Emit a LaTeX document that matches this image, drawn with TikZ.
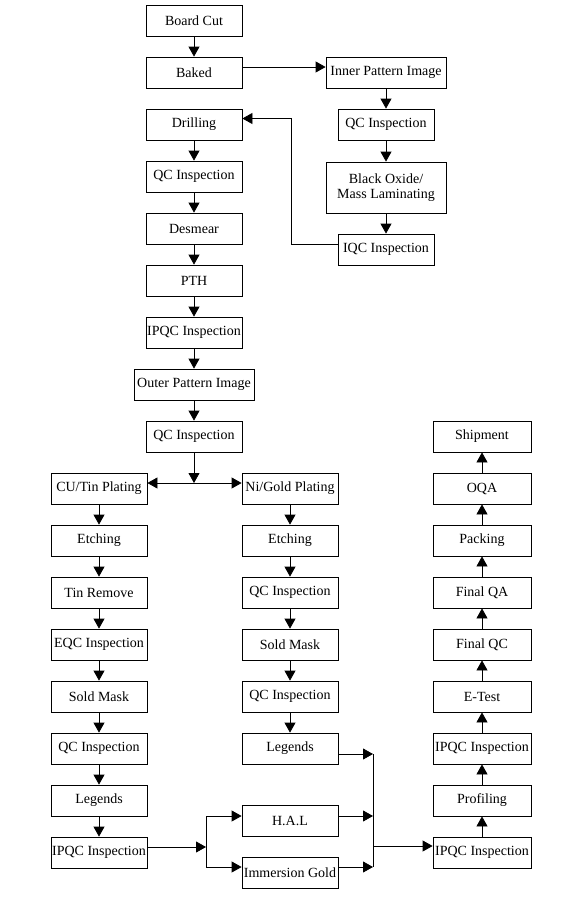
\documentclass[tikz,border=0pt]{standalone}
\usepackage{fontspec}
\setmainfont{Liberation Serif}
\usetikzlibrary{arrows.meta,calc}
\begin{document}
\begin{tikzpicture}[x=1pt,y=-1pt,
 box/.style={draw,line width=0.8pt,minimum width=96pt,minimum height=31pt,inner sep=0pt,font=\fontsize{14}{15.5}\selectfont,align=center},
 wide/.style={box,minimum width=120pt},
 rbox/.style={box,minimum width=98pt},
 arr/.style={-{Triangle[length=10pt,width=11pt]},line width=0.8pt},
 ln/.style={line width=0.8pt}]
\fill[white] (0,0) rectangle (580,900);
\useasboundingbox (0,0) rectangle (580,900);
% main column
\node[box]  (bc)     at (194,20.5)  {Board Cut};
\node[box]  (baked)  at (194,72.5)  {Baked};
\node[box]  (drill)  at (194,124.5) {Drilling};
\node[box]  (qca)    at (194,176.5) {QC Inspection};
\node[box]  (desm)   at (194,228.5) {Desmear};
\node[box]  (pth)    at (194,280.5) {PTH};
\node[box]  (ipqca)  at (194,332.5) {IPQC Inspection};
\node[wide] (outer)  at (194,384.5) {Outer Pattern Image};
\node[box]  (qcb)    at (194,436.5) {QC Inspection};
% right top column
\node[wide] (inner)  at (386,72.5)  {Inner Pattern Image};
\node[box]  (qcc)    at (386,124.5) {QC Inspection};
\node[wide,minimum height=51pt] (oxide) at (386,187.5) {Black Oxide/\\Mass Laminating};
\node[box]  (iqc)    at (386,249.5) {IQC Inspection};
% left lower column
\node[box]  (cu)     at (99,488.5)  {CU/Tin Plating};
\node[box]  (etcha)  at (99,540.5)  {Etching};
\node[box]  (tin)    at (99,592.5)  {Tin Remove};
\node[box]  (eqc)    at (99,644.5)  {EQC Inspection};
\node[box]  (solda)  at (99,696.5)  {Sold Mask};
\node[box]  (qcd)    at (99,748.5)  {QC Inspection};
\node[box]  (lega)   at (99,800.5)  {Legends};
\node[box]  (ipqcb)  at (99,852.5)  {IPQC Inspection};
% middle lower column
\node[box]  (ni)     at (290,488.5) {Ni/Gold Plating};
\node[box]  (etchb)  at (290,540.5) {Etching};
\node[box]  (qce)    at (290,592.5) {QC Inspection};
\node[box]  (soldb)  at (290,644.5) {Sold Mask};
\node[box]  (qcf)    at (290,696.5) {QC Inspection};
\node[box]  (legb)   at (290,748.5) {Legends};
\node[box]  (hal)    at (290,821)   {H.A.L};
\node[box]  (imm)    at (290,872.5) {Immersion Gold};
% far right column
\node[rbox] (ship)   at (482,436.5) {Shipment};
\node[rbox] (oqa)    at (482,488.5) {OQA};
\node[rbox] (pack)   at (482,540.5) {Packing};
\node[rbox] (fqa)    at (482,592.5) {Final QA};
\node[rbox] (fqc)    at (482,644.5) {Final QC};
\node[rbox] (etest)  at (482,696.5) {E-Test};
\node[rbox] (ipqcc)  at (482,748.5) {IPQC Inspection};
\node[rbox] (prof)   at (482,800.5) {Profiling};
\node[rbox] (ipqcd)  at (482,852.5) {IPQC Inspection};
% vertical arrows down
\foreach \a/\b in {bc/baked,drill/qca,qca/desm,desm/pth,pth/ipqca,ipqca/outer,outer/qcb,
  inner/qcc,qcc/oxide,oxide/iqc,
  cu/etcha,etcha/tin,tin/eqc,eqc/solda,solda/qcd,qcd/lega,lega/ipqcb,
  ni/etchb,etchb/qce,qce/soldb,soldb/qcf,qcf/legb}
  \draw[arr] (\a) -- (\b);
% vertical arrows up
\foreach \a/\b in {ipqcd/prof,prof/ipqcc,ipqcc/etest,etest/fqc,fqc/fqa,fqa/pack,pack/oqa,oqa/ship}
  \draw[arr] (\a) -- (\b);
% baked -> inner pattern
\coordinate (bakedout) at ([yshift=5.5pt]baked.east);
\draw[arr] (bakedout) -- (bakedout -| inner.west);
% IQC -> drilling
\coordinate (iqcout) at ([yshift=5.5pt]iqc.west);
\coordinate (drillin) at ([yshift=6pt]drill.east);
\coordinate (fbx) at (291,0);
\draw[arr] (iqcout) -- (iqcout -| fbx) -- (drillin -| fbx) -- (drillin);
% split after QC
\coordinate (split) at (194,483);
\draw[arr] (qcb) -- (split);
\draw[arr] (split) -- (split -| cu.east);
\draw[arr] (split) -- (split -| ni.west);
% split to H.A.L / Immersion Gold
\coordinate (sx) at (206,0);
\coordinate (ipqcbout) at ([yshift=5.5pt]ipqcb.east);
\coordinate (halin) at ([yshift=5pt]hal.west);
\coordinate (immin) at ([yshift=5.5pt]imm.west);
\draw[arr] (ipqcbout) -- (ipqcbout -| sx);
\draw[ln] (halin -| sx) -- (immin -| sx);
\draw[arr] (halin -| sx) -- (halin);
\draw[arr] (immin -| sx) -- (immin);
% merge
\coordinate (mx) at (373,0);
\coordinate (legout) at ([yshift=-5.5pt]legb.east);
\coordinate (halout) at ([yshift=5pt]hal.east);
\coordinate (immout) at ([yshift=5.5pt]imm.east);
\coordinate (ipqcdin) at ([yshift=6.5pt]ipqcd.west);
\draw[arr] (legout) -- (legout -| mx);
\draw[arr] (halout) -- (halout -| mx);
\draw[arr] (immout) -- (immout -| mx);
\draw[ln] (legout -| mx) -- (immout -| mx);
\draw[arr] (ipqcdin -| mx) -- (ipqcdin);
\end{tikzpicture}
\end{document}
